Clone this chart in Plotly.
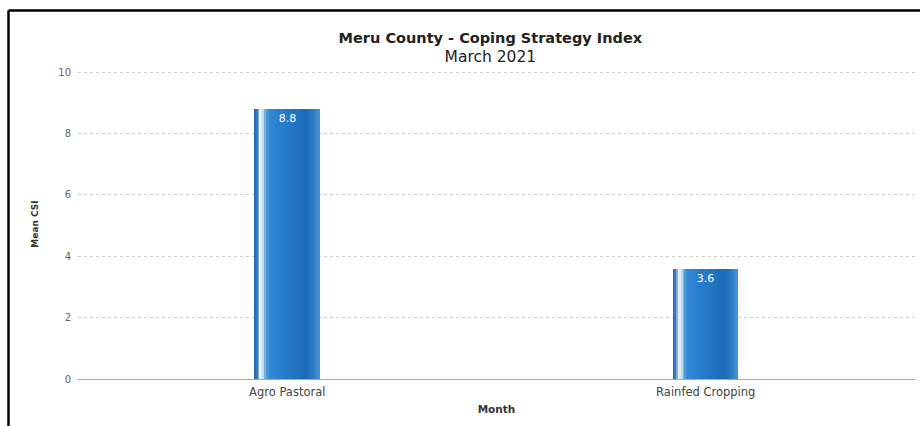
import plotly.graph_objects as go

# Mean Coping Strategy Index by livelihood zone
categories = ["Agro Pastoral", "Rainfed Cropping"]
mean_csi = [8.8, 3.6]
value_labels = ["8.8", "3.6"]
y_ticks = [0, 2, 4, 6, 8, 10]

BAR_W = 0.155  # bar width in category units
FONT = "DejaVu Sans"

# Horizontal shading across the bar face to give a cylinder look
shade_stops = [
    (0.00, "#2466ad"),
    (0.05, "#3a7fc4"),
    (0.08, "#eaf4fc"),
    (0.13, "#d6e9f8"),
    (0.17, "#5fa3de"),
    (0.24, "#2f88d6"),
    (0.50, "#2479c8"),
    (0.80, "#1d6bb8"),
    (0.92, "#2e7fc7"),
    (1.00, "#4a93d2"),
]


def hex_to_rgb(h):
    h = h.lstrip("#")
    return tuple(int(h[i:i + 2], 16) for i in (0, 2, 4))


def shade_at(t):
    for (t0, c0), (t1, c1) in zip(shade_stops, shade_stops[1:]):
        if t0 <= t <= t1:
            a, b = hex_to_rgb(c0), hex_to_rgb(c1)
            f = 0 if t1 == t0 else (t - t0) / (t1 - t0)
            r, g, bl = (round(a[i] + (b[i] - a[i]) * f) for i in range(3))
            return f"rgb({r},{g},{bl})"
    return shade_stops[-1][1]


fig = go.Figure()

n_strips = 40
strip_w = BAR_W / n_strips
for k in range(n_strips):
    t = (k + 0.5) / n_strips
    fig.add_trace(go.Bar(
        x=categories, y=mean_csi,
        width=strip_w * 1.15, offset=-BAR_W / 2 + k * strip_w,
        marker=dict(color=shade_at(t), line=dict(width=0)),
        hoverinfo="skip", showlegend=False,
    ))

# Full-width transparent bar carrying the value labels
fig.add_trace(go.Bar(
    x=categories, y=mean_csi, width=BAR_W,
    marker=dict(color="rgba(0,0,0,0)", line=dict(width=0)),
    text=value_labels, textposition="inside", insidetextanchor="end",
    textfont=dict(color="white", size=11, family=FONT),
    showlegend=False,
))

# Outer frame lines (top and left), placed in paper units
top_y = 1 + (69 - 10.5) / 310
left_x = -(78 - 8.5) / 837
fig.add_shape(type="line", xref="paper", yref="paper",
              x0=left_x, x1=1.01, y0=top_y, y1=top_y,
              line=dict(color="black", width=2.5))
fig.add_shape(type="line", xref="paper", yref="paper",
              x0=left_x, x1=left_x, y0=top_y, y1=-0.2,
              line=dict(color="black", width=2.5))

fig.update_layout(
    width=920, height=426,
    margin=dict(l=78, r=5, t=69, b=47),
    paper_bgcolor="white", plot_bgcolor="white",
    barmode="overlay", bargap=0,
    font=dict(family=FONT, color="#444"),
    title=dict(
        text="<b>Meru County - Coping Strategy Index</b><br>"
             "<span style='font-size:15.5px'>March 2021</span>",
        x=0.533, xref="container", xanchor="center",
        y=1 - 43 / 426, yref="container", yanchor="top",
        font=dict(size=14.5, color="#222", family=FONT),
    ),
    xaxis=dict(
        title=dict(text="<b>Month</b>", font=dict(size=10.5, color="#333"), standoff=8),
        tickfont=dict(size=11.5, color="#444"),
        showgrid=False, showline=False, ticks="", ticklabelstandoff=4,
    ),
    yaxis=dict(
        title=dict(text="<b>Mean CSI</b>", font=dict(size=9, color="#333"), standoff=18),
        range=[0, 10.1], tickvals=y_ticks,
        tickfont=dict(size=10, color="#666"),
        showgrid=True, gridcolor="#cccccc", griddash="dot", gridwidth=1,
        zeroline=True, zerolinecolor="#a8a8a8", zerolinewidth=1,
        ticks="", ticklabelstandoff=6,
    ),
)

fig.write_html("out.html")
